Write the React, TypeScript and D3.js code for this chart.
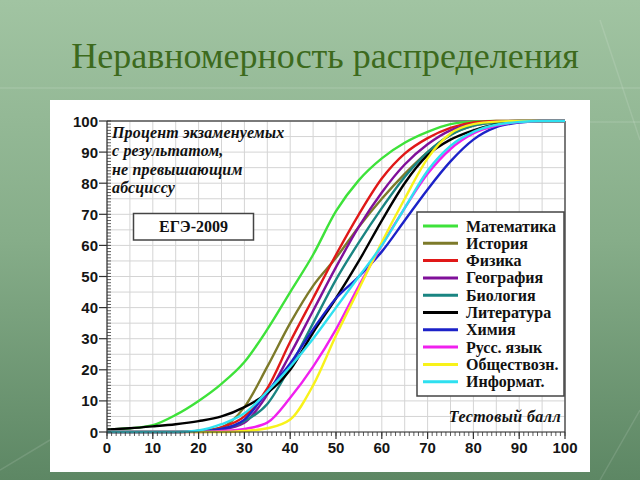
import React from 'react';
import * as d3 from 'd3';

// Test score (x) at which each cumulative percentage is read
const SCORES = [0, 5, 10, 15, 20, 25, 30, 35, 40, 45, 50, 55, 60, 65, 70, 75, 80, 85, 90, 95, 100];

const MATH = [0.8, 1.2, 2.2, 5.5, 10, 15.5, 22.5, 33, 45, 57, 71, 81, 88, 93, 96.5, 99, 99.8, 100, 100, 100, 100];
const HISTORY = [0, 0, 0, 0, 0.3, 1.5, 8, 21, 35, 47, 56, 66, 75, 83, 90, 95.5, 98.5, 99.7, 100, 100, 100];
const PHYSICS = [0, 0, 0, 0, 0.3, 1.5, 5, 14, 29, 43, 57, 70, 81.5, 89.5, 94.5, 97.8, 99.5, 100, 100, 100, 100];
const GEOGRAPHY = [0, 0, 0, 0, 0.2, 0.8, 3, 12, 25, 39, 53, 66, 77, 86, 92.5, 97, 99, 99.8, 100, 100, 100];
const BIOLOGY = [0, 0, 0, 0, 0.3, 1, 3.5, 9, 21, 35, 49, 61, 72, 82, 90, 95.5, 98.5, 99.6, 100, 100, 100];
const LITERATURE = [0.8, 1.2, 1.8, 2.5, 3.5, 5, 8, 12.5, 20, 32, 43, 55, 68, 80, 89, 94, 97, 99, 99.8, 100, 100];
const CHEMISTRY = [0, 0, 0, 0, 0.2, 1, 4, 13, 22, 33, 43, 50, 58, 68, 78, 87, 94, 98, 99.5, 100, 100];
const RUSSIAN = [0, 0, 0, 0, 0, 0.3, 1, 3, 11, 21, 33, 47, 60, 72, 83, 91, 96, 98.5, 99.7, 100, 100];
const SOCIAL = [0, 0, 0, 0, 0, 0, 0.3, 1.2, 4, 15, 31, 46, 61, 75, 88, 96, 99, 99.8, 100, 100, 100];
const INFORMATICS = [0, 0, 0, 0, 0.5, 2.5, 6, 13, 21, 30, 40, 50, 60, 72, 84, 92, 96.5, 98.8, 99.7, 100, 100];

const SUBJECTS = ['Математика', 'История', 'Физика', 'География', 'Биология', 'Литература', 'Химия', 'Русс. язык', 'Обществозн.', 'Информат.'];
const COLORS = ['#3ee23a', '#7d7a2a', '#e01818', '#80109a', '#1a8582', '#000000', '#1c22c8', '#f020ee', '#f8f21a', '#2ee0f0'];
const SERIES = [MATH, HISTORY, PHYSICS, GEOGRAPHY, BIOLOGY, LITERATURE, CHEMISTRY, RUSSIAN, SOCIAL, INFORMATICS];

const AXIS_TICKS = [0, 10, 20, 30, 40, 50, 60, 70, 80, 90, 100];
const TITLE = 'Неравномерность распределения';
const NOTE = ['Процент экзаменуемых', 'с результатом,', 'не превышающим', 'абсциссу'];
const BOX_LABEL = 'ЕГЭ-2009';
const X_LABEL = 'Тестовый балл';

const SANS = "'Liberation Sans', Arial, sans-serif";
const SERIF = "'Liberation Serif', 'Times New Roman', serif";

export default function App() {
  const W = 640, H = 480;
  const x = d3.scaleLinear().domain([0, 100]).range([107, 565]);
  const y = d3.scaleLinear().domain([0, 100]).range([432, 121]);
  const grid = d3.range(0, 101, 5);
  const minor = d3.range(0, 101, 1);
  const line = d3.line<number>()
    .x((_, i) => x(SCORES[i]))
    .y(d => y(d))
    .curve(d3.curveMonotoneX);

  const legX = 417, legY = 212, legW = 147, legH = 184;
  const rowY = (i: number) => 226 + i * 17.3;

  return (
    <svg width={W} height={H} style={{ position: 'fixed', left: 0, top: 0, display: 'block' }}>
      <defs>
        <linearGradient id="bg" x1="0" y1="0" x2="0" y2="1">
          <stop offset="0" stopColor="#a1c4a2" />
          <stop offset="0.5" stopColor="#86ad89" />
          <stop offset="1" stopColor="#5d8764" />
        </linearGradient>
      </defs>
      <rect x={0} y={0} width={W} height={H} fill="url(#bg)" />
      {/* faint decorative slide lines */}
      <g stroke="#ffffff" strokeOpacity={0.12} strokeWidth={1.5} fill="none">
        <line x1={0} y1={88} x2={640} y2={88} />
        <line x1={590} y1={122} x2={640} y2={122} />
        <line x1={600} y1={20} x2={640} y2={140} />
        <line x1={600} y1={480} x2={640} y2={410} />
        <line x1={0} y1={470} x2={50} y2={440} />
      </g>
      <text x={325} y={68} textAnchor="middle" style={{ fontFamily: SERIF }} fontSize={36} fill="#3d6a1d">{TITLE}</text>

      {/* white panel */}
      <rect x={50} y={100} width={540} height={372} fill="#ffffff" />

      {/* grid */}
      <g stroke="#d4d4d4" strokeWidth={1}>
        {grid.map(v => <line key={'gx' + v} x1={x(v)} x2={x(v)} y1={y(0)} y2={y(100)} />)}
        {grid.map(v => <line key={'gy' + v} x1={x(0)} x2={x(100)} y1={y(v)} y2={y(v)} />)}
      </g>
      {/* frame top/right */}
      <line x1={x(0)} x2={x(100)} y1={y(100)} y2={y(100)} stroke="#555" strokeWidth={1.5} />
      <line x1={x(100)} x2={x(100)} y1={y(0)} y2={y(100)} stroke="#555" strokeWidth={1.5} />

      {/* note text */}
      <g style={{ fontFamily: SERIF }} fontStyle="italic" fontWeight="bold" fontSize={16} fill="#111">
        {NOTE.map((t, i) => <text key={t} x={112} y={138 + i * 18.3} letterSpacing={0.15}>{t}</text>)}
      </g>
      <rect x={133.5} y={213.5} width={120} height={26.5} fill="#fff" stroke="#444" strokeWidth={1.5} />
      <text x={193.5} y={232} textAnchor="middle" style={{ fontFamily: SERIF }} fontWeight="bold" fontSize={16} fill="#111">{BOX_LABEL}</text>

      {/* curves */}
      <g fill="none" strokeWidth={2.4} strokeLinejoin="round">
        {SERIES.map((s, i) => <path key={SUBJECTS[i]} d={line(s) || ''} stroke={COLORS[i]} />)}
      </g>

      {/* axes */}
      <g stroke="#333" strokeWidth={1.2}>
        <line x1={x(0)} x2={x(0)} y1={y(0) + 0.5} y2={y(100)} />
        <line x1={x(0)} x2={x(100)} y1={y(0)} y2={y(0)} />
        {minor.map(v => <line key={'my' + v} x1={x(0)} x2={x(0) + 4} y1={y(v)} y2={y(v)} strokeWidth={0.8} />)}
        {minor.map(v => <line key={'mx' + v} x1={x(v)} x2={x(v)} y1={y(0)} y2={y(0) + 4} strokeWidth={0.8} />)}
        {AXIS_TICKS.map(v => <line key={'ty' + v} x1={x(0) - 8} x2={x(0)} y1={y(v)} y2={y(v)} />)}
        {AXIS_TICKS.map(v => <line key={'tx' + v} x1={x(v)} x2={x(v)} y1={y(0)} y2={y(0) + 7} />)}
      </g>
      <g style={{ fontFamily: SANS }} fontSize={15} fontWeight="bold" fill="#151515">
        {AXIS_TICKS.map(v => <text key={'ly' + v} x={x(0) - 9} y={y(v) + 5.5} textAnchor="end">{v}</text>)}
        {AXIS_TICKS.map(v => <text key={'lx' + v} x={x(v)} y={453} textAnchor="middle">{v}</text>)}
      </g>

      {/* legend */}
      <rect x={legX} y={legY} width={legW} height={legH} fill="#fff" stroke="#444" strokeWidth={1.5} />
      {SUBJECTS.map((s, i) => (
        <g key={'lg' + s}>
          <line x1={423} x2={458} y1={rowY(i)} y2={rowY(i)} stroke={COLORS[i]} strokeWidth={3} />
          <text x={466} y={rowY(i) + 5.5} style={{ fontFamily: SERIF }} fontWeight="bold" fontSize={16} fill="#111">{s}</text>
        </g>
      ))}

      <text x={561} y={422} textAnchor="end" style={{ fontFamily: SERIF }} fontStyle="italic" fontWeight="bold" fontSize={16} fill="#111" letterSpacing={0.4}>{X_LABEL}</text>
    </svg>
  );
}
